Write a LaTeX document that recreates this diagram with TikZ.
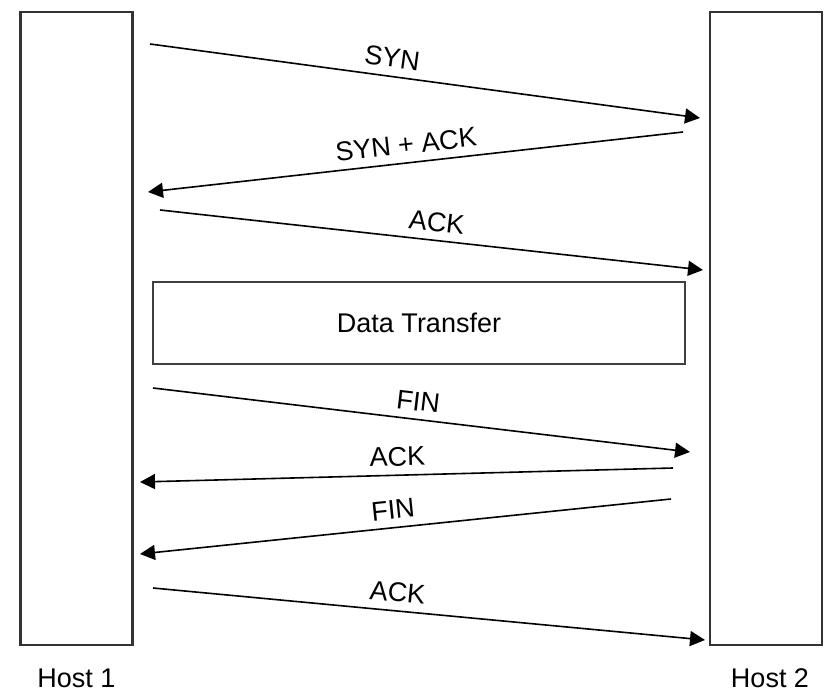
\documentclass[tikz,border=0pt]{standalone}
\usepackage{fontspec}
\setmainfont{Liberation Sans}
\usetikzlibrary{positioning,arrows.meta}

\tikzset{
  host/.style={rectangle, draw=black!80, line width=2.6pt, minimum width=112pt, minimum height=633pt},
  hostlabel/.style={inner sep=2pt, font=\fontsize{27}{30}\selectfont},
  msg/.style={-{Triangle[length=15pt, width=15pt]}, line width=1.6pt, black},
  msglabel/.style={sloped, above=6pt, inner sep=2pt, font=\fontsize{27}{30}\selectfont},
  databox/.style={rectangle, draw=black!75, line width=1.4pt, minimum width=532pt, minimum height=82pt, font=\fontsize{27}{30}\selectfont}
}

\begin{document}
\begin{tikzpicture}[x=1pt, y=-1pt]
\useasboundingbox (0,0) rectangle (840,692);

\node[host] (host1) at (76.5,328.5) {};
\node[host] (host2) at (766,328.5) {};
\node[hostlabel, below=20pt of host1] (h1text) {Host 1};
\node[hostlabel, below=20pt of host2, xshift=4pt] (h2text) {Host 2};

\node[databox] (data) at (419,323) {Data Transfer};

% connection set-up
\coordinate (syn1) at (150,44);
\coordinate (syn2) at (700,118);
\coordinate (sa1) at (683,132);
\coordinate (sa2) at (148,192);
\coordinate (ack1) at (160,210);
\coordinate (ack2) at (703,270);

% connection tear-down
\coordinate (fin1) at (153,388);
\coordinate (fin2) at (690,452);
\coordinate (fa1) at (673,468);
\coordinate (fa2) at (140,482);
\coordinate (finb1) at (671,499);
\coordinate (finb2) at (140,554);
\coordinate (lack1) at (153,588);
\coordinate (lack2) at (705,640);

\draw[msg] (syn1) -- node[msglabel, pos=0.436] {SYN} (syn2);
\draw[msg] (sa1) -- node[msglabel, pos=0.514] {SYN + ACK} (sa2);
\draw[msg] (ack1) -- node[msglabel, pos=0.506] {ACK} (ack2);

\draw[msg] (fin1) -- node[msglabel, pos=0.49] {FIN} (fin2);
\draw[msg] (fa1) -- node[msglabel, pos=0.516] {ACK} (fa2);
\draw[msg] (finb1) -- node[msglabel, pos=0.52] {FIN} (finb2);
\draw[msg] (lack1) -- node[msglabel, pos=0.44] {ACK} (lack2);

\end{tikzpicture}
\end{document}
